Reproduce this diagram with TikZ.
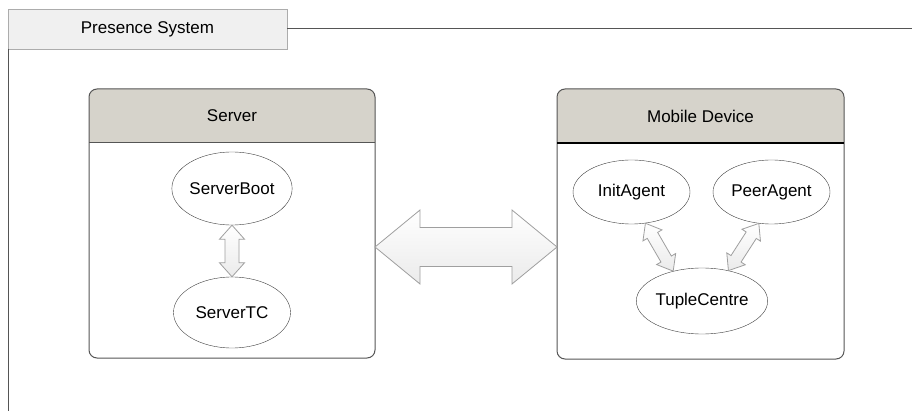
\documentclass[tikz,border=0pt]{standalone}
\usepackage{fontspec}
\setmainfont{Liberation Sans}
\usepackage{xcolor}
\usepackage{tikz}
\usetikzlibrary{calc}
\usetikzlibrary{shapes.geometric}
\definecolor{hdrgray}{HTML}{D6D3CB}
\definecolor{tabgray}{HTML}{F0F0F0}
\definecolor{linegray}{HTML}{555555}
\newcommand{\blockarrow}[5]{%
	\coordinate (ba) at ($(#1)!#5!(#2)$);
	\coordinate (bb) at ($(#2)!#5!(#1)$);
	\draw[blockarr] (#1) -- ($(ba)!#4!90:(#2)$) -- ($(ba)!#3!90:(#2)$) -- ($(bb)!#3!-90:(#1)$) -- ($(bb)!#4!-90:(#1)$) -- (#2) -- ($(bb)!#4!90:(#1)$) -- ($(bb)!#3!90:(#1)$) -- ($(ba)!#3!-90:(#2)$) -- ($(ba)!#4!-90:(#2)$) -- cycle;}

\begin{document}
\begin{tikzpicture}[x=1pt,y=-1pt,
		font=\fontsize{17}{20}\selectfont,
		frame/.style={draw=linegray,line width=1pt},
		tab/.style={draw=gray!65,fill=tabgray,minimum width=279pt,minimum height=40pt,inner sep=0pt,outer sep=0pt},
		box/.style={fill=white,inner sep=0pt,outer sep=0pt,rounded corners=8pt},
		usecase/.style={ellipse,draw=black!75,fill=white,inner sep=0pt,minimum width=117pt},
		blockarr/.style={draw=gray!75,line width=0.8pt,top color=white,bottom color=black!8,line join=miter}]
		\useasboundingbox (0,0) rectangle (912,411);
		\node[tab] (sys) at (147.5,29) {Presence System};
		\coordinate (frright) at (912,29);
		\coordinate (frbottom) at (8,411);
		\draw[frame] (sys.east) -- (frright);
		\draw[frame] (sys.south west) -- (frbottom);
		\node[box,minimum width=286pt,minimum height=269pt] (server) at (232,223.5) {};
		\begin{scope}
			\clip (server.north west) rectangle (server.east |- 0,143);
			\fill[hdrgray,rounded corners=8pt] (server.north west) rectangle (server.south east);
		\end{scope}
		\draw[frame,rounded corners=8pt] (server.north west) rectangle (server.south east);
		\draw[frame] (server.west |- 0,143) -- (server.east |- 0,143);
		\node (servertitle) at (232,116) {Server};
		\node[box,minimum width=287pt,minimum height=270pt] (mobile) at (700.5,224) {};
		\begin{scope}
			\clip (mobile.north west) rectangle (mobile.east |- 0,143);
			\fill[hdrgray,rounded corners=8pt] (mobile.north west) rectangle (mobile.south east);
		\end{scope}
		\draw[frame,rounded corners=8pt] (mobile.north west) rectangle (mobile.south east);
		\draw[black,line width=1.2pt] (mobile.west |- 0,143) -- (mobile.east |- 0,143);
		\node (mobiletitle) at (700.5,116) {Mobile Device};
		\node[usecase,minimum height=73pt] (serverboot) at (232,188.5) {ServerBoot};
		\node[usecase,minimum height=71pt] (servertc) at (232,312.5) {ServerTC};
		\node[usecase,minimum height=64pt] (initagent) at (631.5,192) {InitAgent};
		\node[usecase,minimum height=64pt] (peeragent) at (771.5,192) {PeerAgent};
		\node[usecase,minimum height=66pt] (tuplecentre) at (702,301) {TupleCentre};
		\blockarrow{serverboot.south}{servertc.north}{7pt}{12.5pt}{14pt}
		\blockarrow{initagent.-66}{tuplecentre.134}{6pt}{11pt}{14pt}
		\blockarrow{peeragent.-112}{tuplecentre.49}{6pt}{11pt}{14pt}
		\coordinate (bigleft) at (server.east |- 0,247);
		\coordinate (bigright) at (mobile.west |- 0,247);
		\blockarrow{bigleft}{bigright}{19.5pt}{37pt}{45pt}
	\end{tikzpicture}
\end{document}
